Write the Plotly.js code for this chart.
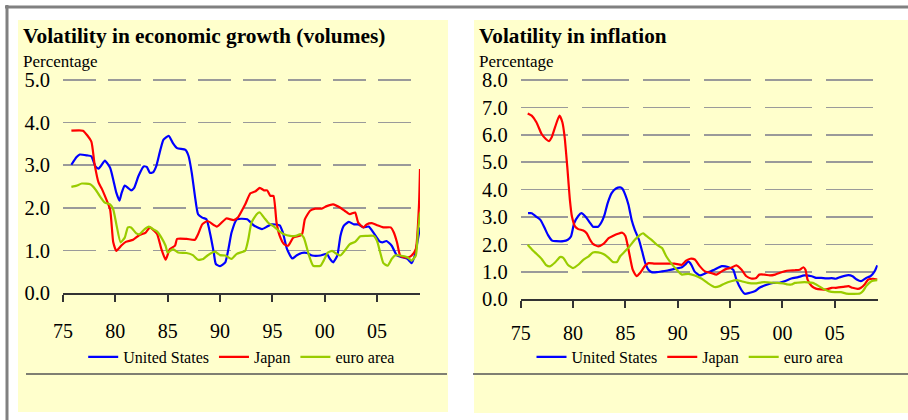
<!DOCTYPE html>
<html>
<head>
<meta charset="utf-8">
<script src="https://cdn.plot.ly/plotly-3.0.1.min.js"></script>
<style>html,body{margin:0;padding:0;background:#fff;}#chart{width:908px;height:420px;}</style>
</head>
<body>
<div id="chart"></div>
<script>
// ---------- DATA ----------
const seriesNames = ["United States", "Japan", "euro area"];
const tickYears = [1975, 1980, 1985, 1990, 1995, 2000, 2005];
const tickLabels = ["75", "80", "85", "90", "95", "00", "05"];

// Volatility in economic growth (volumes)
const growthUS_x = [1975.8,1976.3,1976.6,1977.3,1977.7,1978.1,1978.4,1978.7,1979.0,1979.5,1979.8,1980.1,1980.4,1980.6,1980.9,1981.2,1981.5,1981.8,1982.2,1982.7,1983.0,1983.3,1983.6,1983.9,1984.3,1984.6,1985.1,1985.5,1985.9,1986.7,1987.0,1987.3,1987.6,1987.9,1988.3,1988.7,1989.1,1989.4,1989.6,1990.0,1990.5,1990.8,1991.1,1991.6,1992.6,1993.2,1994.0,1994.5,1994.9,1995.7,1996.0,1996.4,1996.9,1997.3,1997.8,1998.3,1998.8,1999.6,2000.2,2000.5,2000.8,2001.2,2001.5,2001.8,2002.3,2002.8,2003.2,2003.7,2004.2,2004.7,2005.2,2005.5,2005.9,2006.4,2006.9,2007.4,2007.9,2008.3,2008.6,2009.1];
const growthUS_y = [3.01,3.19,3.25,3.23,3.21,2.97,2.92,3.01,3.11,2.94,2.66,2.35,2.17,2.35,2.52,2.47,2.41,2.47,2.74,2.97,2.96,2.82,2.83,2.97,3.36,3.60,3.69,3.52,3.40,3.36,3.21,2.82,2.28,1.85,1.77,1.73,1.34,0.95,0.68,0.63,0.72,1.03,1.42,1.73,1.73,1.59,1.50,1.56,1.61,1.59,1.42,1.03,0.81,0.88,0.94,0.94,0.88,0.88,0.92,0.80,0.72,0.88,1.34,1.57,1.67,1.61,1.61,1.54,1.56,1.40,1.22,1.19,1.22,1.11,0.88,0.84,0.80,0.70,0.88,1.54];
const growthJP_x = [1975.8,1976.9,1977.7,1978.0,1978.4,1978.7,1979.0,1979.5,1979.8,1980.1,1980.6,1981.0,1981.7,1982.3,1982.9,1983.3,1983.7,1984.0,1984.4,1984.8,1985.2,1985.7,1985.9,1986.8,1987.6,1987.9,1988.3,1988.8,1989.7,1990.6,1991.3,1991.7,1992.4,1992.9,1993.4,1993.8,1994.2,1994.5,1994.8,1995.1,1995.4,1995.7,1996.1,1996.5,1997.0,1997.8,1998.1,1998.6,1999.1,1999.7,2000.2,2000.8,2001.5,2001.9,2002.4,2002.9,2003.2,2003.7,2004.0,2004.5,2005.0,2005.6,2006.3,2006.6,2006.9,2007.2,2007.5,2008.0,2008.3,2008.7,2009.0,2009.1];
const growthJP_y = [3.81,3.81,3.56,3.05,2.59,2.45,2.28,1.96,1.19,0.99,1.12,1.20,1.25,1.36,1.42,1.54,1.46,1.38,1.03,0.78,1.03,1.11,1.27,1.27,1.25,1.38,1.61,1.69,1.56,1.75,1.71,1.77,2.08,2.34,2.39,2.47,2.41,2.41,2.28,2.28,1.65,1.34,1.15,1.11,1.30,1.36,1.73,1.93,1.98,1.98,2.04,2.08,2.00,1.93,1.85,1.89,1.65,1.54,1.61,1.64,1.59,1.54,1.54,1.42,1.19,0.88,0.84,0.84,0.88,1.03,2.04,2.91];
const growthEA_x = [1975.8,1976.3,1976.8,1977.6,1978.1,1978.5,1979.0,1979.5,1979.8,1980.1,1980.5,1980.9,1981.2,1981.5,1982.0,1982.3,1982.8,1983.2,1983.6,1984.0,1984.4,1984.8,1985.0,1985.5,1986.0,1986.8,1987.4,1987.9,1988.4,1988.8,1989.5,1990.0,1990.5,1991.1,1991.6,1992.4,1992.7,1993.0,1993.5,1993.8,1994.2,1994.6,1995.1,1995.6,1996.1,1996.7,1997.2,1997.7,1998.0,1998.5,1998.9,1999.6,1999.9,2000.3,2000.7,2001.0,2001.5,2001.9,2002.4,2002.9,2003.4,2004.0,2004.7,2005.0,2005.3,2005.6,2006.0,2006.4,2006.7,2007.2,2007.9,2008.3,2008.7,2008.9,2009.1];
const growthEA_y = [2.49,2.52,2.57,2.55,2.43,2.28,2.12,2.08,1.96,1.61,1.19,1.30,1.54,1.54,1.40,1.38,1.50,1.56,1.50,1.44,1.30,1.11,0.95,1.03,0.95,0.94,0.89,0.78,0.80,0.88,0.97,0.89,0.88,0.80,0.92,0.99,1.26,1.65,1.85,1.89,1.77,1.65,1.57,1.46,1.38,1.34,1.34,1.38,1.30,0.88,0.64,0.64,0.76,0.95,0.99,0.94,0.88,0.99,1.15,1.20,1.33,1.34,1.34,1.22,0.95,0.70,0.64,0.80,0.88,0.88,0.84,0.76,0.88,1.42,1.89];

// Volatility in inflation
const inflUS_x = [1975.7,1976.05,1976.5,1976.9,1977.3,1977.6,1978.0,1978.4,1979.07,1979.5,1979.8,1980.1,1980.5,1980.8,1981.2,1981.6,1981.9,1982.4,1982.7,1983.0,1983.3,1983.7,1984.1,1984.5,1984.7,1985.0,1985.3,1985.6,1985.9,1986.3,1986.6,1986.9,1987.2,1987.5,1988.0,1988.5,1989.1,1989.7,1990.4,1990.7,1991.0,1991.3,1991.6,1992.1,1992.7,1993.5,1994.2,1994.8,1995.3,1995.6,1996.1,1996.4,1996.9,1997.4,1997.8,1998.5,1999.1,1999.7,2000.2,2000.85,2001.5,2002.1,2002.8,2003.2,2003.7,2004.2,2004.7,2005.1,2005.6,2006.3,2006.7,2007.1,2007.5,2008.0,2008.4,2008.8,2009.06];
const inflUS_y = [3.14,3.14,3.01,2.89,2.59,2.35,2.14,2.12,2.12,2.17,2.29,2.77,3.04,3.14,3.01,2.80,2.65,2.65,2.80,3.07,3.50,3.88,4.04,4.08,4.04,3.80,3.44,2.89,2.53,2.17,1.75,1.32,1.08,0.99,0.99,1.02,1.06,1.11,1.17,1.26,1.38,1.26,1.02,0.87,0.96,1.08,1.21,1.18,1.08,0.72,0.33,0.20,0.24,0.30,0.42,0.53,0.60,0.60,0.66,0.76,0.81,0.87,0.84,0.78,0.78,0.76,0.77,0.75,0.82,0.88,0.84,0.72,0.66,0.78,0.84,1.02,1.24];
const inflJP_x = [1975.67,1976.05,1976.5,1977.0,1977.4,1977.7,1977.96,1978.3,1978.7,1978.98,1979.2,1979.45,1979.7,1979.9,1980.2,1980.5,1980.98,1981.3,1981.6,1981.9,1982.4,1982.9,1983.4,1983.8,1984.3,1984.7,1985.0,1985.3,1985.7,1986.07,1986.4,1986.9,1987.2,1987.8,1988.8,1989.7,1990.4,1990.8,1991.2,1991.63,1992.1,1992.6,1993.2,1993.7,1994.2,1994.65,1995.1,1995.6,1996.1,1996.56,1997.0,1997.5,1997.8,1998.3,1998.8,1999.3,1999.7,2000.2,2000.7,2001.2,2001.65,2002.0,2002.2,2002.4,2002.8,2003.2,2003.7,2004.2,2004.7,2005.1,2005.8,2006.3,2006.7,2007.2,2007.5,2007.85,2008.2,2008.65,2009.06];
const inflJP_y = [6.78,6.70,6.46,6.03,5.85,5.77,5.91,6.30,6.70,6.46,5.91,4.83,3.62,3.01,2.65,2.56,2.51,2.41,2.19,2.02,1.93,2.02,2.23,2.31,2.39,2.43,2.31,1.81,1.08,0.84,0.96,1.23,1.32,1.30,1.30,1.30,1.26,1.41,1.48,1.45,1.21,1.02,0.96,0.90,1.02,1.11,1.15,1.24,1.08,0.84,0.76,0.78,0.90,0.90,0.87,0.90,0.96,1.02,1.05,1.06,1.08,1.17,1.08,0.72,0.48,0.39,0.36,0.36,0.42,0.42,0.45,0.48,0.42,0.38,0.42,0.54,0.72,0.75,0.72];
const inflEA_x = [1975.67,1976.05,1976.5,1977.0,1977.4,1977.8,1978.3,1978.75,1979.07,1979.5,1980.0,1980.5,1980.98,1981.5,1981.9,1982.4,1982.9,1983.4,1983.8,1984.2,1984.5,1984.96,1985.4,1985.9,1986.4,1986.7,1987.0,1987.5,1988.0,1988.5,1988.9,1989.4,1989.9,1990.4,1991.0,1991.63,1992.3,1992.9,1993.5,1994.0,1994.5,1995.1,1995.6,1996.1,1996.7,1997.4,1998.0,1998.6,1999.4,2000.1,2000.5,2000.85,2001.2,2001.8,2002.4,2002.9,2003.4,2003.9,2004.4,2005.0,2005.6,2006.1,2006.7,2007.4,2007.7,2008.0,2008.5,2009.06];
const inflEA_y = [1.99,1.83,1.66,1.47,1.26,1.20,1.35,1.54,1.51,1.26,1.14,1.26,1.44,1.57,1.71,1.71,1.65,1.51,1.36,1.36,1.57,1.75,1.93,2.17,2.35,2.41,2.31,2.17,1.99,1.87,1.57,1.30,1.08,0.90,0.93,0.87,0.75,0.58,0.45,0.48,0.58,0.66,0.70,0.66,0.60,0.58,0.62,0.62,0.60,0.58,0.54,0.54,0.60,0.62,0.62,0.60,0.50,0.38,0.30,0.26,0.26,0.21,0.20,0.21,0.30,0.48,0.66,0.70];

// ---------- STYLE ----------
const W = 908, H = 420;
const px = v => v / W;
const py = v => 1 - v / H;
const colors = ["#0000FF", "#FF0000", "#99CC00"];
const serif = "Liberation Serif, Times New Roman, serif";

function mk(x, y, i, xa, ya, leg) {
  return {
    x: x, y: y, type: "scatter", mode: "lines", name: seriesNames[i],
    xaxis: xa, yaxis: ya, legend: leg,
    line: {color: colors[i], width: 2.2, shape: "spline", smoothing: 0.5},
    hoverinfo: "skip"
  };
}

const data = [
  mk(growthUS_x, growthUS_y, 0, "x", "y", "legend"),
  mk(growthJP_x, growthJP_y, 1, "x", "y", "legend"),
  mk(growthEA_x, growthEA_y, 2, "x", "y", "legend"),
  mk(inflUS_x, inflUS_y, 0, "x2", "y2", "legend2"),
  mk(inflJP_x, inflJP_y, 1, "x2", "y2", "legend2"),
  mk(inflEA_x, inflEA_y, 2, "x2", "y2", "legend2")
];

function xAxis(d0, d1, anchor, standoff) {
  return {
    domain: [px(d0), px(d1)], anchor: anchor, range: [1975, 2009.1],
    tickmode: "array", tickvals: tickYears, ticktext: tickLabels,
    ticks: "outside", ticklen: 7, tickwidth: 2, tickcolor: "#333",
    showline: true, linecolor: "#333", linewidth: 2,
    showgrid: false, zeroline: false,
    tickfont: {family: serif, size: 20, color: "#000"},
    ticklabelstandoff: standoff, fixedrange: true
  };
}
// top of range extended by 2px so Plotly keeps the top gridline
function yAxis(t0, t1, anchor, maxV, dash) {
  const pxPerUnit = (t1 - t0) / maxV;
  return {
    domain: [py(t1), py(t0 - 2)], anchor: anchor, range: [0, maxV + 2 / pxPerUnit],
    tickmode: "linear", tick0: 0, dtick: 1, tickformat: ".1f",
    showgrid: true, gridcolor: "#9a9a9a", gridwidth: 1.5, griddash: dash,
    zeroline: false, showline: false, ticks: "",
    tickfont: {family: serif, size: 20.5, color: "#000"},
    ticklabelstandoff: 12, fixedrange: true
  };
}

const shapes = [
  {type: "rect", xref: "paper", yref: "paper", x0: px(18), x1: px(448), y0: py(412), y1: py(20), fillcolor: "#FFFFCC", line: {width: 0}, layer: "below"},
  {type: "rect", xref: "paper", yref: "paper", x0: px(474), x1: px(908), y0: py(413), y1: py(20), fillcolor: "#FFFFCC", line: {width: 0}, layer: "below"},
  {type: "line", xref: "paper", yref: "paper", x0: px(5), x1: px(908), y0: py(7), y1: py(7), line: {color: "#808080", width: 3}, layer: "below"},
  {type: "line", xref: "paper", yref: "paper", x0: px(7), x1: px(7), y0: py(5), y1: py(420), line: {color: "#808080", width: 3}, layer: "below"},
  {type: "line", xref: "paper", yref: "paper", x0: px(26), x1: px(447), y0: py(374), y1: py(374), line: {color: "#555", width: 1.5}, layer: "below"},
  {type: "line", xref: "paper", yref: "paper", x0: px(473), x1: px(908), y0: py(374), y1: py(374), line: {color: "#555", width: 1.5}, layer: "below"}
];

const ann = (text, x, y, size, bold) => ({
  text: bold ? "<b>" + text + "</b>" : text, xref: "paper", yref: "paper",
  x: px(x), y: py(y), xanchor: "left", yanchor: "middle", showarrow: false,
  font: {family: serif, size: size, color: "#000"}
});

const legendStyle = (xc) => ({
  orientation: "h", x: px(xc), y: py(357), xanchor: "center", yanchor: "middle",
  bgcolor: "rgba(0,0,0,0)", borderwidth: 0,
  font: {family: serif, size: 16, color: "#000"}, itemwidth: 30
});

const layout = {
  width: W, height: H, autosize: false,
  margin: {l: 0, r: 0, t: 0, b: 0},
  paper_bgcolor: "#FFFFFF", plot_bgcolor: "#FFFFFF",
  showlegend: true,
  xaxis: xAxis(63, 420, "y", 12),
  yaxis: yAxis(80, 293, "x", 5, "33px,12px"),
  xaxis2: xAxis(520.7, 877.7, "y2", 8),
  yaxis2: yAxis(80, 299.3, "x2", 8, "47px,14px"),
  legend: legendStyle(241.7),
  legend2: legendStyle(690),
  shapes: shapes,
  annotations: [
    ann("Volatility in economic growth (volumes)", 21, 36, 21.4, true),
    ann("Percentage", 21, 61, 17, false),
    ann("Volatility in inflation", 477, 36, 21.2, true),
    ann("Percentage", 477, 61, 17, false)
  ]
};

Plotly.newPlot("chart", data, layout, {staticPlot: true, displayModeBar: false});
</script>
</body>
</html>
